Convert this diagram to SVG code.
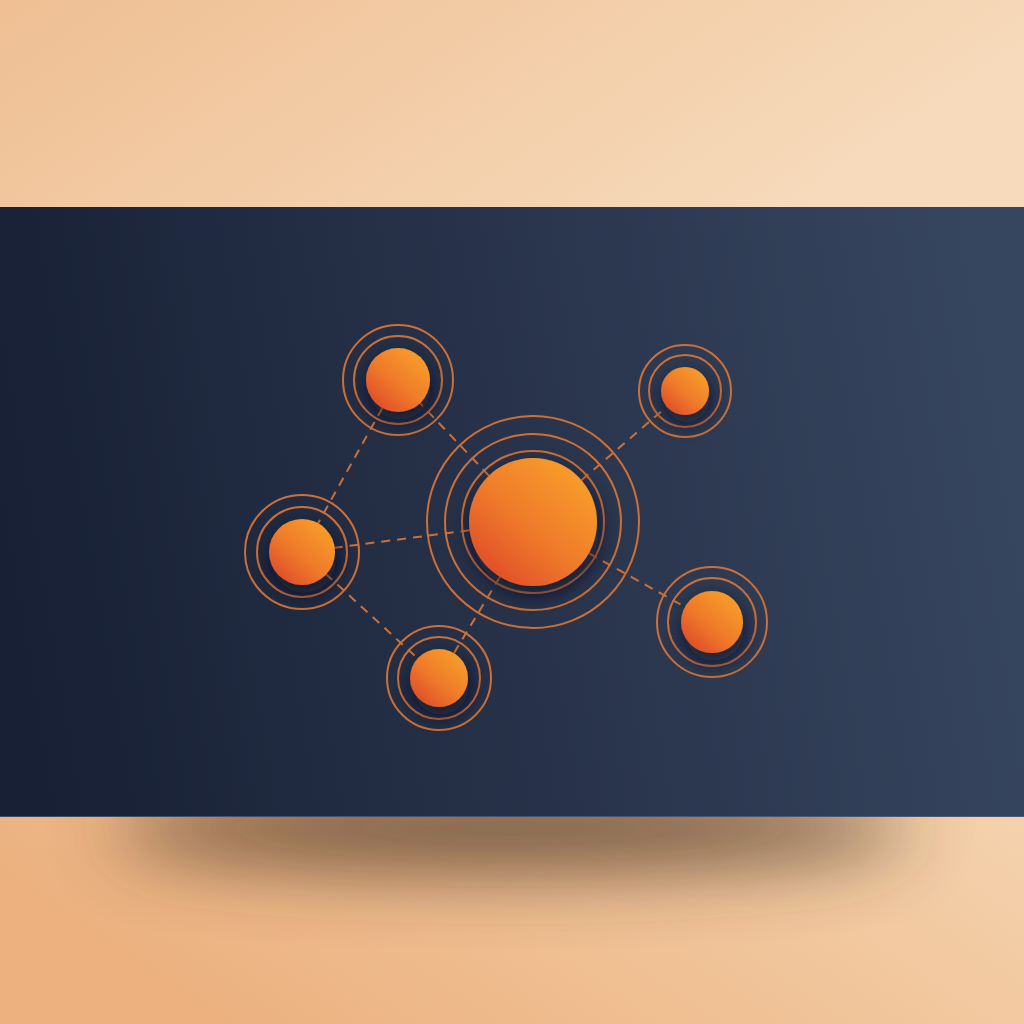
<svg xmlns="http://www.w3.org/2000/svg" width="1024" height="1024" viewBox="0 0 1024 1024">
<defs>
<linearGradient id="bgTop" x1="0" y1="0" x2="1" y2="0.3">
<stop offset="0" stop-color="#efbf93"/>
<stop offset="1" stop-color="#f6dabb"/>
</linearGradient>
<linearGradient id="bgBot" x1="0" y1="0.3" x2="1" y2="0">
<stop offset="0" stop-color="#ecb17f"/>
<stop offset="1" stop-color="#f4d2ad"/>
</linearGradient>
<linearGradient id="band" x1="0" y1="0.5" x2="1" y2="0.4">
<stop offset="0" stop-color="#172034"/>
<stop offset="0.5" stop-color="#28334b"/>
<stop offset="1" stop-color="#37465f"/>
</linearGradient>
<linearGradient id="orb" x1="0.85" y1="0.1" x2="0.15" y2="0.9">
<stop offset="0" stop-color="#f89d2c"/>
<stop offset="0.55" stop-color="#ef7a2a"/>
<stop offset="1" stop-color="#e04f28"/>
</linearGradient>
<filter id="bandShadow" x="-30%" y="-300%" width="160%" height="700%">
<feGaussianBlur stdDeviation="38"/>
</filter>
<filter id="orbShadow" x="-80%" y="-80%" width="260%" height="260%">
<feDropShadow dx="2" dy="9" stdDeviation="10" flood-color="#0b1020" flood-opacity="0.7"/>
</filter>
</defs>
<style>
.ring{fill:none;stroke:#cc7038;stroke-width:2}
.link{fill:none;stroke:#cc7038;stroke-width:2;stroke-dasharray:9 7}
.orb{fill:url(#orb);filter:url(#orbShadow)}
</style>
<rect x="0" y="0" width="1024" height="208" fill="url(#bgTop)"/>
<rect x="0" y="816" width="1024" height="208" fill="url(#bgBot)"/>
<ellipse cx="510" cy="828" rx="400" ry="40" fill="#4a3320" opacity="0.8" filter="url(#bandShadow)"/>
<rect x="0" y="207" width="1024" height="610" fill="url(#band)"/>
<line x1="0" y1="816.5" x2="1024" y2="816.5" stroke="#5f6c80" stroke-width="1" opacity="0.6"/>
<g id="connectors">
<line class="link" x1="533" y1="522" x2="398" y2="380"/>
<line class="link" x1="533" y1="522" x2="685" y2="391"/>
<line class="link" x1="533" y1="522" x2="302" y2="552"/>
<line class="link" x1="533" y1="522" x2="439" y2="678"/>
<line class="link" x1="533" y1="522" x2="712" y2="622"/>
<line class="link" x1="398" y1="380" x2="302" y2="552"/>
<line class="link" x1="302" y1="552" x2="439" y2="678"/>
</g>
<g id="node-center">
<circle class="ring" cx="533" cy="522" r="106"/>
<circle class="ring" cx="533" cy="522" r="88"/>
<circle class="ring" cx="533" cy="522" r="71"/>
<circle class="orb" cx="533" cy="522" r="64"/>
</g>
<g id="node-topleft">
<circle class="ring" cx="398" cy="380" r="55"/>
<circle class="ring" cx="398" cy="380" r="44"/>
<circle class="orb" cx="398" cy="380" r="32"/>
</g>
<g id="node-topright">
<circle class="ring" cx="685" cy="391" r="46"/>
<circle class="ring" cx="685" cy="391" r="36"/>
<circle class="orb" cx="685" cy="391" r="24"/>
</g>
<g id="node-left">
<circle class="ring" cx="302" cy="552" r="57"/>
<circle class="ring" cx="302" cy="552" r="45"/>
<circle class="orb" cx="302" cy="552" r="33"/>
</g>
<g id="node-bottom">
<circle class="ring" cx="439" cy="678" r="52"/>
<circle class="ring" cx="439" cy="678" r="41"/>
<circle class="orb" cx="439" cy="678" r="29"/>
</g>
<g id="node-right">
<circle class="ring" cx="712" cy="622" r="55"/>
<circle class="ring" cx="712" cy="622" r="44"/>
<circle class="orb" cx="712" cy="622" r="31"/>
</g>
</svg>
